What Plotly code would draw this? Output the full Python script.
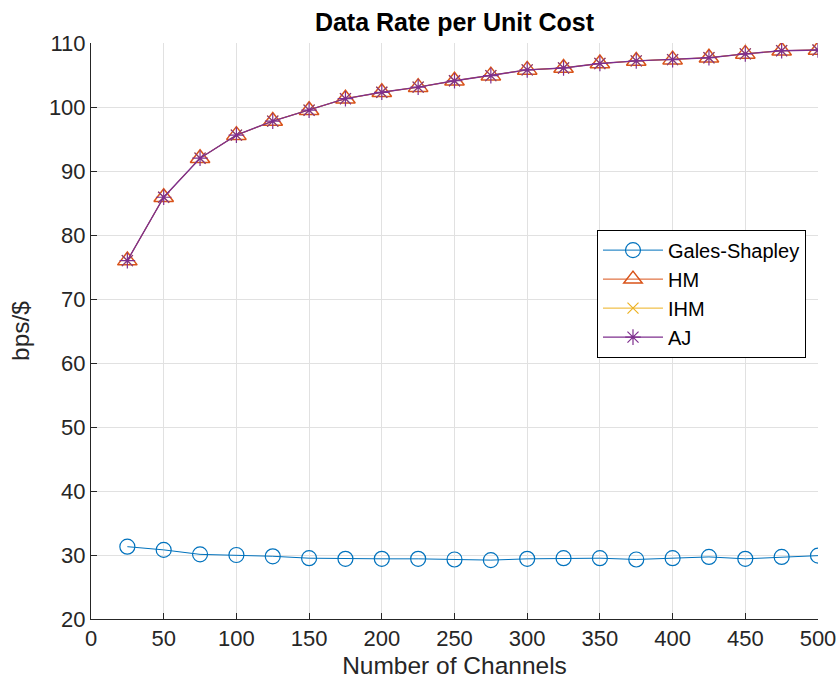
import plotly.graph_objects as go

channels = [25, 50, 75, 100, 125, 150, 175, 200, 225, 250, 275, 300, 325, 350, 375, 400, 425, 450, 475, 500]
gales_shapley = [31.3, 30.8, 30.1, 30.0, 29.8, 29.5, 29.4, 29.4, 29.4, 29.3, 29.2, 29.4, 29.5, 29.5, 29.3, 29.5, 29.7, 29.4, 29.7, 29.9]
hm = [76.0, 85.9, 92.0, 95.6, 97.8, 99.5, 101.3, 102.3, 103.1, 104.1, 104.9, 105.8, 106.1, 106.8, 107.2, 107.4, 107.7, 108.3, 108.8, 108.9]
ihm = list(hm)
aj = list(hm)

x_ticks = [0, 50, 100, 150, 200, 250, 300, 350, 400, 450, 500]
y_ticks = [20, 30, 40, 50, 60, 70, 80, 90, 100, 110]

FONT = "Liberation Sans, Arial, sans-serif"
AX = "#262626"

fig = go.Figure()
fig.add_trace(go.Scatter(x=channels, y=gales_shapley, name="Gales-Shapley", mode="lines+markers",
                         line=dict(color="#0072BD", width=1),
                         marker=dict(symbol="circle-open", size=15, color="#0072BD", line=dict(width=1.2))))
fig.add_trace(go.Scatter(x=channels, y=hm, name="HM", mode="lines+markers",
                         line=dict(color="#D95319", width=1),
                         marker=dict(symbol="triangle-up-open", size=17, color="#D95319", line=dict(width=1.5))))
fig.add_trace(go.Scatter(x=channels, y=ihm, name="IHM", mode="lines+markers",
                         line=dict(color="#EDB120", width=1),
                         marker=dict(symbol="x-thin-open", size=11, color="#EDB120", line=dict(width=1.2))))
fig.add_trace(go.Scatter(x=channels, y=aj, name="AJ", mode="lines+markers",
                         line=dict(color="#7E2F8E", width=1.4),
                         marker=dict(symbol="asterisk-open", size=13, color="#7E2F8E", line=dict(width=1.2))))

fig.update_layout(
    width=838, height=684,
    margin=dict(l=91, r=20, t=43, b=65, autoexpand=False),
    paper_bgcolor="white", plot_bgcolor="white",
    font=dict(family=FONT, color=AX, size=20),
    title=dict(text="<b>Data Rate per Unit Cost</b>", x=0.5, xanchor="center", xref="paper",
               y=0.968, yref="container", yanchor="middle", automargin=False,
               font=dict(size=25, color="black", family=FONT)),
    showlegend=True,
    legend=dict(x=0.696, y=0.676, xanchor="left", yanchor="top",
                bgcolor="white", bordercolor="black", borderwidth=1,
                font=dict(size=20, color="black", family=FONT), tracegroupgap=0,
                itemwidth=60),
    xaxis=dict(range=[0, 500], tickvals=x_ticks, showgrid=True, gridcolor="#e1e1e1", gridwidth=1,
               showline=True, linecolor=AX, linewidth=1, ticks="inside", ticklen=6, tickcolor=AX,
               zeroline=False, tickfont=dict(size=22, color=AX), automargin=False,
               title=dict(text="Number of Channels", font=dict(size=24.5, color=AX), standoff=6)),
    yaxis=dict(range=[20, 110], tickvals=y_ticks, showgrid=True, gridcolor="#e1e1e1", gridwidth=1,
               showline=True, linecolor=AX, linewidth=1, ticks="inside", ticklen=6, tickcolor=AX,
               zeroline=False, tickfont=dict(size=22, color=AX), automargin=False,
               title=dict(text="bps/$", font=dict(size=24.5, color=AX), standoff=12)),
)

fig.write_html("out.html", config={"displayModeBar": False},
               post_script="document.body.style.margin='0';document.body.style.padding='0';document.body.style.overflow='hidden';")
